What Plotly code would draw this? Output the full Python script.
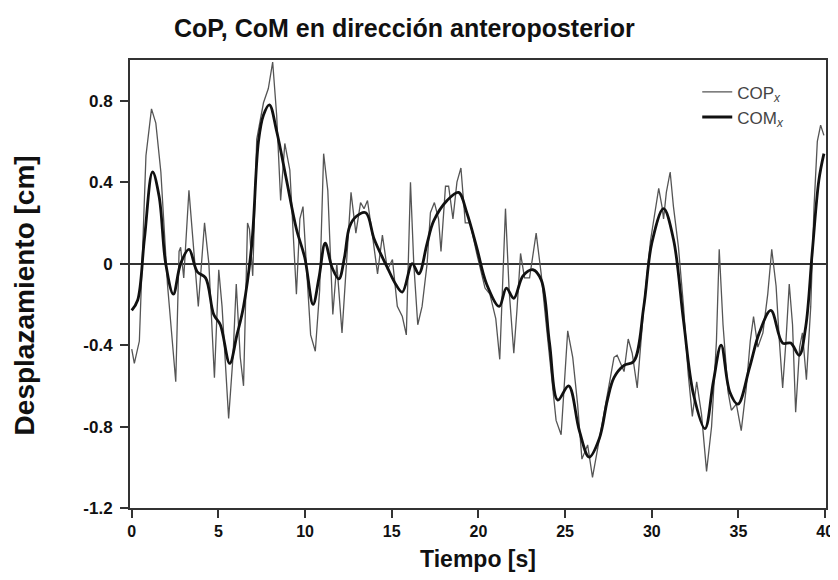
import plotly.graph_objects as go

cop_t = [0.00, 0.15, 0.44, 0.82, 1.14, 1.39, 1.68, 2.06, 2.54, 2.73, 2.82, 3.00, 3.30, 3.59, 3.84,
         4.20, 4.45, 4.77, 5.02, 5.21, 5.59, 5.84, 6.03, 6.26, 6.45, 6.68, 6.79, 6.98, 7.21, 7.60,
         7.88, 8.13, 8.36, 8.59, 8.83, 9.12, 9.50, 9.70, 9.88, 10.07, 10.32, 10.59, 10.84, 11.07,
         11.31, 11.60, 11.83, 12.13, 12.36, 12.65, 12.93, 13.20, 13.40, 13.60, 13.90, 14.18, 14.46,
         14.75, 15.04, 15.32, 15.61, 15.84, 16.08, 16.27, 16.50, 16.75, 17.04, 17.23, 17.46, 17.70,
         17.84, 18.10, 18.28, 18.53, 18.76, 18.99, 19.24, 19.52, 19.90, 20.38, 20.66, 21.00, 21.23,
         21.56, 21.77, 22.04, 22.22, 22.43, 22.66, 22.95, 23.33, 23.62, 23.90, 24.29, 24.48, 24.77,
         24.96, 25.15, 25.44, 25.72, 25.97, 26.30, 26.58, 26.97, 27.44, 27.82, 28.00, 28.20, 28.40,
         28.64, 28.87, 29.16, 29.54, 29.92, 30.20, 30.40, 30.59, 30.68, 30.84, 31.06, 31.25, 31.54,
         31.83, 32.10, 32.34, 32.59, 32.87, 33.16, 33.45, 33.73, 33.89, 34.11, 34.40, 34.59, 34.88,
         35.16, 35.45, 35.68, 35.87, 36.12, 36.41, 36.69, 36.92, 37.17, 37.36, 37.55, 37.74, 37.93,
         38.12, 38.30, 38.53, 38.69, 38.92, 39.17, 39.36, 39.55, 39.74, 39.93]
cop_v = [-0.42, -0.49, -0.38, 0.53, 0.76, 0.69, 0.45, -0.10, -0.58, 0.06, 0.08, -0.07, 0.36, 0.03, -0.21,
         0.20, 0.00, -0.56, -0.03, -0.21, -0.76, -0.46, -0.10, -0.46, -0.60, 0.20, 0.17, -0.06, 0.61, 0.79,
         0.86, 0.99, 0.73, 0.31, 0.59, 0.46, -0.15, 0.22, 0.28, 0.00, -0.35, -0.43, -0.13, 0.54,
         0.36, -0.25, 0.00, -0.34, -0.05, 0.35, 0.15, 0.30, 0.27, 0.31, 0.13, -0.05, 0.14,
         -0.03, 0.02, -0.21, -0.26, -0.35, 0.40, 0.00, -0.30, -0.21, 0.00, 0.25, 0.30, 0.22,
         0.06, 0.38, 0.38, 0.22, 0.40, 0.47, 0.20, 0.20, 0.05, -0.12, -0.15, -0.27, -0.47,
         0.27, -0.13, -0.44, -0.23, 0.05, -0.07, -0.07, 0.15, -0.05, -0.29, -0.62, -0.77, -0.84,
         -0.59, -0.33, -0.46, -0.69, -0.96, -0.89, -1.05, -0.86, -0.64, -0.46, -0.45, -0.49, -0.53,
         -0.37, -0.44, -0.61, -0.21, 0.11, 0.25, 0.37, 0.28, 0.22, 0.35, 0.45, 0.28, 0.08,
         -0.21, -0.54, -0.75, -0.58, -0.74, -1.02, -0.80, -0.38, 0.07, -0.30, -0.63, -0.72, -0.69,
         -0.82, -0.61, -0.38, -0.26, -0.41, -0.34, -0.15, 0.07, -0.11, -0.38, -0.61, -0.38, -0.10,
         -0.30, -0.73, -0.41, -0.34, -0.57, -0.21, 0.28, 0.60, 0.68, 0.63]

com_t = [0.00, 0.34, 0.73, 1.20, 1.58, 1.96, 2.40, 2.82, 3.30, 3.78, 4.26, 4.73, 5.11, 5.65, 6.07,
         6.45, 6.93, 7.31, 7.60, 7.94, 8.36, 8.93, 9.50, 9.98, 10.46, 10.80, 11.16, 11.56, 11.95,
         12.27, 12.56, 12.93, 13.50, 13.99, 14.75, 15.22, 15.61, 16.18, 16.56, 17.04, 17.42, 18.19,
         18.85, 19.33, 19.90, 20.47, 21.20, 21.61, 22.04, 22.57, 23.14, 23.62, 24.10, 24.58, 25.20,
         25.82, 26.39, 26.97, 27.44, 27.82, 28.40, 28.96, 29.54, 30.00, 30.68, 31.25, 31.83, 32.40,
         33.07, 33.55, 34.00, 34.50, 34.97, 35.64, 36.20, 36.87, 37.55, 38.02, 38.50, 38.88, 39.26,
         39.64, 39.93]
com_v = [-0.23, -0.18, 0.12, 0.45, 0.33, 0.00, -0.15, 0.00, 0.07, -0.04, -0.07, -0.25, -0.30, -0.49, -0.35,
         -0.21, 0.10, 0.60, 0.73, 0.78, 0.65, 0.41, 0.17, 0.03, -0.20, -0.07, 0.10, -0.02, -0.075,
         0.03, 0.18, 0.23, 0.25, 0.12, -0.02, -0.10, -0.14, 0.00, -0.05, 0.10, 0.21, 0.31,
         0.35, 0.25, 0.08, -0.10, -0.21, -0.12, -0.17, -0.06, -0.03, -0.08, -0.39, -0.67, -0.60,
         -0.82, -0.95, -0.86, -0.67, -0.56, -0.50, -0.48, -0.21, 0.10, 0.27, 0.12, -0.28, -0.64,
         -0.81, -0.58, -0.40, -0.63, -0.69, -0.51, -0.34, -0.23, -0.39, -0.39, -0.45, -0.31, 0.06,
         0.41, 0.54]

x_ticks = [0, 5, 10, 15, 20, 25, 30, 35, 40]
y_ticks = [0.8, 0.4, 0, -0.4, -0.8, -1.2]
y_tick_labels = ["0.8", "0.4", "0", "-0.4", "-0.8", "-1.2"]

fig = go.Figure()
fig.add_trace(go.Scatter(x=cop_t, y=cop_v, mode="lines", name="COP<sub><i>x</i></sub>",
                         line=dict(color="#555555", width=1.3)))
fig.add_trace(go.Scatter(x=com_t, y=com_v, mode="lines", name="COM<sub><i>x</i></sub>",
                         line=dict(color="#111111", width=2.8, shape="spline", smoothing=1.0)))

axis_common = dict(showgrid=False, showline=True, linecolor="#333333", linewidth=2,
                   mirror=True, ticks="outside", ticklen=8, tickwidth=2, tickcolor="#333333")

fig.update_layout(
    width=838, height=580,
    paper_bgcolor="white", plot_bgcolor="white",
    margin=dict(l=122, r=14, t=52, b=80),
    title=dict(text="<b>CoP, CoM en dirección anteroposterior</b>",
               x=0.473, xanchor="center", y=0.965, yanchor="middle",
               font=dict(family="Liberation Sans, Arial", size=25, color="#111111")),
    xaxis=dict(range=[-0.1, 40.05], tickvals=x_ticks, **axis_common,
               tickfont=dict(family="Liberation Sans, Arial", size=16, color="#111111", weight="bold"),
               title=dict(text="<b>Tiempo [s]</b>", standoff=12,
                          font=dict(family="Liberation Sans, Arial", size=23, color="#111111"))),
    yaxis=dict(range=[-1.2, 1.0], tickvals=y_ticks, ticktext=y_tick_labels, **axis_common,
               ticklabelstandoff=4,
               zeroline=True, zerolinecolor="#333333", zerolinewidth=1.5,
               tickfont=dict(family="Liberation Sans, Arial", size=17, color="#111111", weight="bold")),
    legend=dict(x=0.815, y=0.968, xanchor="left", yanchor="top", bgcolor="rgba(0,0,0,0)",
                font=dict(family="Liberation Sans, Arial", size=17, color="#444444"),
                tracegroupgap=0, itemwidth=30),
    showlegend=True,
)

fig.add_annotation(text="<b>Desplazamiento [cm]</b>", textangle=-90,
                   xref="paper", yref="paper", x=-0.152, y=0.475,
                   xanchor="center", yanchor="middle", showarrow=False,
                   font=dict(family="Liberation Sans, Arial", size=28, color="#111111"))

fig.write_html("out.html")
